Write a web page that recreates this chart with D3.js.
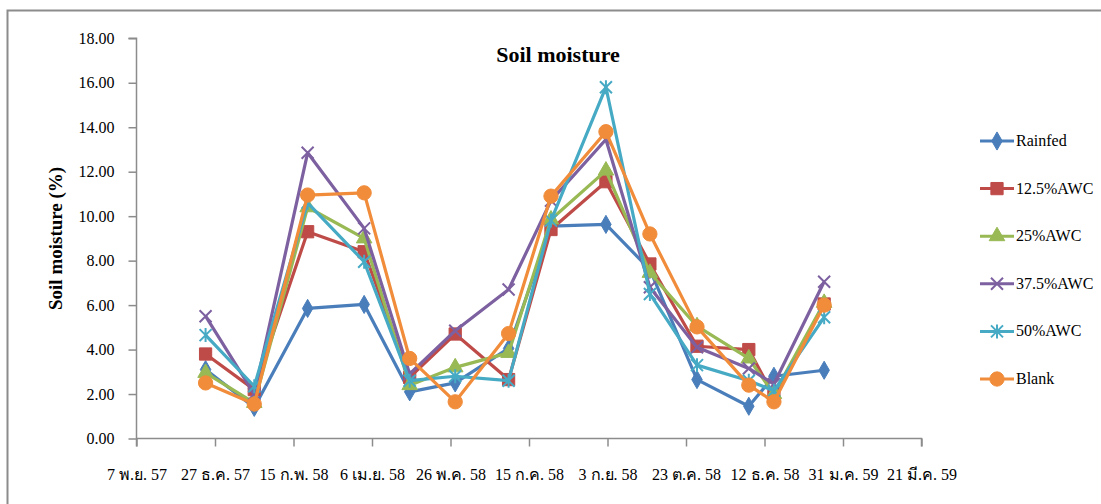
<!DOCTYPE html>
<html>
<head>
<meta charset="utf-8">
<script src="https://cdn.jsdelivr.net/npm/d3@7"></script>
<style>
  html, body { margin: 0; padding: 0; background: #fff; }
  svg { display: block; }
  text { font-family: "Liberation Serif", "Times New Roman", serif; fill: #000; }
</style>
</head>
<body>
<svg id="chart" width="1101" height="504"></svg>
<script>
// Sampling dates (Gregorian, UTC)
const sampleDates = ["2014-12-21","2015-01-21","2015-02-24","2015-04-01","2015-04-30","2015-05-29","2015-07-02",
                     "2015-07-29","2015-09-02","2015-09-30","2015-10-30","2015-12-02","2015-12-18","2016-01-19"];

// Soil moisture (%) per treatment
const rainfed = [3.10, 1.40, 5.85, 6.03, 2.10, 2.50, 4.05, 9.55, 9.63, 7.60, 2.65, 1.45, 2.80, 3.07];
const awc125  = [3.80, 2.20, 9.30, 8.40, 2.75, 4.70, 2.65, 9.40, 11.55, 7.85, 4.15, 4.00, 1.90, 6.05];
const awc25   = [2.95, 1.60, 10.40, 9.00, 2.40, 3.20, 3.85, 9.85, 12.05, 7.45, 5.05, 3.60, 2.00, 6.10];
const awc375  = [5.50, 2.00, 12.85, 9.45, 2.90, 4.85, 6.70, 10.70, 13.45, 6.80, 4.10, 3.15, 2.45, 7.05];
const awc50   = [4.65, 2.35, 10.60, 7.95, 2.60, 2.80, 2.60, 9.80, 15.80, 6.50, 3.30, 2.60, 2.15, 5.45];
const blank   = [2.50, 1.55, 10.95, 11.05, 3.60, 1.65, 4.72, 10.90, 13.80, 9.20, 5.02, 2.40, 1.65, 6.00];

const seriesNames = ["Rainfed", "12.5%AWC", "25%AWC", "37.5%AWC", "50%AWC", "Blank"];
const seriesValues = [rainfed, awc125, awc25, awc375, awc50, blank];
const seriesColors = ["#4A7EBB", "#BE4B48", "#98B954", "#7D60A0", "#46AAC5", "#F08C3A"];
const seriesMarkers = ["diamond", "square", "triangle", "x", "star", "circle"];

// X axis ticks (Thai Buddhist-era labels)
const tickDates  = ["2014-11-07","2014-12-27","2015-02-15","2015-04-06","2015-05-26","2015-07-15",
                    "2015-09-03","2015-10-23","2015-12-12","2016-01-31","2016-03-21"];
const tickLabels = ["7 พ.ย. 57","27 ธ.ค. 57","15 ก.พ. 58","6 เม.ย. 58","26 พ.ค. 58","15 ก.ค. 58",
                    "3 ก.ย. 58","23 ต.ค. 58","12 ธ.ค. 58","31 ม.ค. 59","21 มี.ค. 59"];
const yTicks = [0, 2, 4, 6, 8, 10, 12, 14, 16, 18];

const parse = d3.utcParse("%Y-%m-%d");
const svg = d3.select("#chart");
const axisColor = "#8c8c8c";

// outer chart frame
svg.append("rect")
  .attr("x", 7.5).attr("y", 10.5).attr("width", 1110).attr("height", 510)
  .attr("fill", "none").attr("stroke", "#8c8c8c").attr("stroke-width", 2);

const plot = { left: 136.5, right: 921.5, top: 38.3, bottom: 438.5 };

const x = d3.scaleUtc()
  .domain([parse(tickDates[0]), parse(tickDates[tickDates.length - 1])])
  .range([plot.left, plot.right]);
const y = d3.scaleLinear().domain([0, 18]).range([plot.bottom, plot.top]);

// Y axis
const yAxis = d3.axisLeft(y).tickValues(yTicks).tickSize(8).tickPadding(14)
  .tickFormat(d3.format(".2f"));
const gy = svg.append("g").attr("transform", `translate(${plot.left},0)`).call(yAxis);
gy.select(".domain").attr("stroke", axisColor).attr("stroke-width", 1.5)
  .attr("d", `M-8,${plot.top}H0V${plot.bottom + 8}`);
gy.selectAll(".tick line").attr("stroke", axisColor).attr("stroke-width", 1.5);
gy.selectAll(".tick text").style("font-family", "'Liberation Serif', serif").style("font-size", "16px").attr("fill", "#000");

// X axis
const labelByTick = new Map(tickDates.map((d, i) => [+parse(d), tickLabels[i]]));
const xAxis = d3.axisBottom(x).tickValues(tickDates.map(parse)).tickSize(8).tickPadding(22)
  .tickFormat(d => labelByTick.get(+d));
const gx = svg.append("g").attr("transform", `translate(0,${plot.bottom})`).call(xAxis);
gx.select(".domain").attr("stroke", axisColor).attr("stroke-width", 1.5)
  .attr("d", `M${plot.left},0H${plot.right}V8`);
gx.selectAll(".tick line").attr("stroke", axisColor).attr("stroke-width", 1.5);
gx.selectAll(".tick text").style("font-family", "'Liberation Serif', 'DejaVu Serif', serif").style("font-size", "16px").attr("fill", "#000");

// Titles
svg.append("text").attr("x", 558).attr("y", 62).attr("text-anchor", "middle")
  .style("font-size", "22px").style("font-weight", "bold").text("Soil moisture");
svg.append("text").attr("transform", `translate(62,${(plot.top + plot.bottom) / 2}) rotate(-90)`)
  .attr("text-anchor", "middle").style("font-size", "19px").style("font-weight", "bold")
  .text("Soil moisture (%)");

// Marker shapes
function markerPath(kind) {
  switch (kind) {
    case "diamond": return d3.symbol(d3.symbolDiamond, 95)();
    case "square": return d3.symbol(d3.symbolSquare, 150)();
    case "triangle": return d3.symbol(d3.symbolTriangle, 105)();
    case "circle": return d3.symbol(d3.symbolCircle, 160)();
    case "x": return "M-6,-6L6,6M-6,6L6,-6";
    case "star": return "M-6,-6L6,6M-6,6L6,-6M0,-7L0,7";
  }
}
function drawMarker(g, kind, color, cx, cy) {
  const p = g.append("path").attr("d", markerPath(kind)).attr("transform", `translate(${cx},${cy})`);
  if (kind === "x" || kind === "star") p.attr("fill", "none").attr("stroke", color).attr("stroke-width", 2);
  else p.attr("fill", color).attr("stroke", color).attr("stroke-width", 1);
}

const line = d3.line().x(d => x(d.date)).y(d => y(d.value));

seriesNames.forEach((name, i) => {
  const pts = seriesValues[i].map((v, j) => ({ date: parse(sampleDates[j]), value: v }));
  const g = svg.append("g");
  g.append("path").datum(pts).attr("d", line).attr("fill", "none")
    .attr("stroke", seriesColors[i]).attr("stroke-width", 3.2).attr("stroke-linejoin", "round");
  pts.forEach(p => drawMarker(g, seriesMarkers[i], seriesColors[i], x(p.date), y(p.value)));
});

// Legend
const legend = svg.append("g");
seriesNames.forEach((name, i) => {
  const ly = 141 + i * 47.6;
  legend.append("line").attr("x1", 980).attr("x2", 1014).attr("y1", ly).attr("y2", ly)
    .attr("stroke", seriesColors[i]).attr("stroke-width", 3);
  drawMarker(legend, seriesMarkers[i], seriesColors[i], 997, ly);
  legend.append("text").attr("x", 1016).attr("y", ly + 5).style("font-size", "16px").text(name);
});
</script>
</body>
</html>
